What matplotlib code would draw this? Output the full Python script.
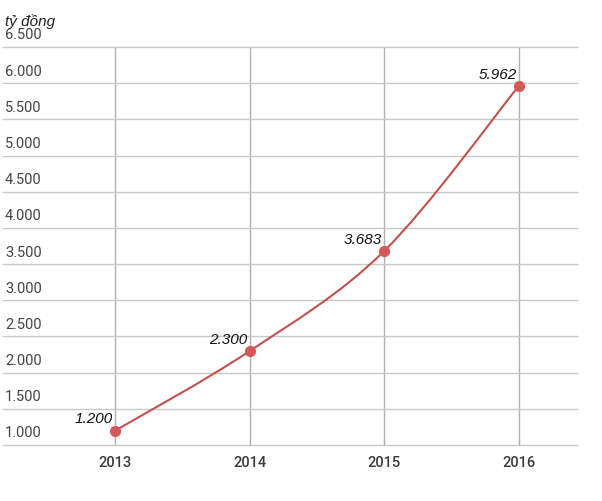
import matplotlib.pyplot as plt
from matplotlib.path import Path
from matplotlib.patches import PathPatch

years = ['2013', '2014', '2015', '2016']
values = [1200, 2300, 3683, 5962]
value_labels = ['1.200', '2.300', '3.683', '5.962']
y_ticks = [1000, 1500, 2000, 2500, 3000, 3500, 4000, 4500, 5000, 5500, 6000, 6500]
y_tick_labels = ['1.000', '1.500', '2.000', '2.500', '3.000', '3.500', '4.000',
                 '4.500', '5.000', '5.500', '6.000', '6.500']

line_color = '#c4504e'
point_color = '#d5575a'
plt.rcParams['font.family'] = ['Roboto', 'DejaVu Sans']

fig = plt.figure(figsize=(6.02, 5.02), dpi=100)
ax = fig.add_axes([3 / 602, 56 / 502, 574 / 602, 398 / 502])

x = list(range(len(years)))

# smooth curve through the points (Catmull-Rom as cubic Bezier segments)
verts = [(x[0], values[0])]
codes = [Path.MOVETO]
n = len(x)
for i in range(n - 1):
    p0 = (x[max(i - 1, 0)], values[max(i - 1, 0)])
    p1 = (x[i], values[i])
    p2 = (x[i + 1], values[i + 1])
    p3 = (x[min(i + 2, n - 1)], values[min(i + 2, n - 1)])
    c1 = (p1[0] + (p2[0] - p0[0]) / 6, p1[1] + (p2[1] - p0[1]) / 6)
    c2 = (p2[0] - (p3[0] - p1[0]) / 6, p2[1] - (p3[1] - p1[1]) / 6)
    verts += [c1, c2, p2]
    codes += [Path.CURVE4] * 3
ax.add_patch(PathPatch(Path(verts, codes), fill=False, edgecolor=line_color,
                       linewidth=1.5, zorder=3))
ax.plot(x, values, 'o', color=point_color, markersize=7, zorder=4)

for xi, v, lab in zip(x, values, value_labels):
    ax.annotate(lab, (xi, v), xytext=(-1.5, 6), textcoords='offset points',
                ha='right', va='baseline', fontsize=11, style='italic',
                color='#111111', family=['Liberation Sans', 'DejaVu Sans'])

ax.set_xlim(-0.836, 3.433)
ax.set_ylim(1000, 6500)
ax.set_yticks(y_ticks)
ax.set_yticklabels([])
ax.tick_params(axis='y', length=0)
ax.set_xticks(x)
ax.set_xticklabels(years, fontsize=10.5, color='#3a3a3a', fontweight='medium')
ax.tick_params(axis='x', length=0, pad=7)
ax.grid(axis='y', color='#c8c8c8', linewidth=1)
ax.grid(axis='x', color='#b0b0b0', linewidth=1)
for gl in ax.get_ygridlines() + ax.get_xgridlines():
    gl.set_clip_on(False)
for s in ax.spines.values():
    s.set_visible(False)

for t, lab in zip(y_ticks, y_tick_labels):
    ax.annotate(lab, (0, t), xycoords=('axes fraction', 'data'),
                xytext=(1.5, 4), textcoords='offset points',
                ha='left', va='bottom', fontsize=10.5, color='#444444')

fig.text(5 / 602, 1 - 26 / 502, 'tỷ đồng', fontsize=11, style='italic',
         color='#222222', ha='left', va='baseline',
         family=['Liberation Sans', 'DejaVu Sans'])

fig.savefig('out.png', dpi=100)
